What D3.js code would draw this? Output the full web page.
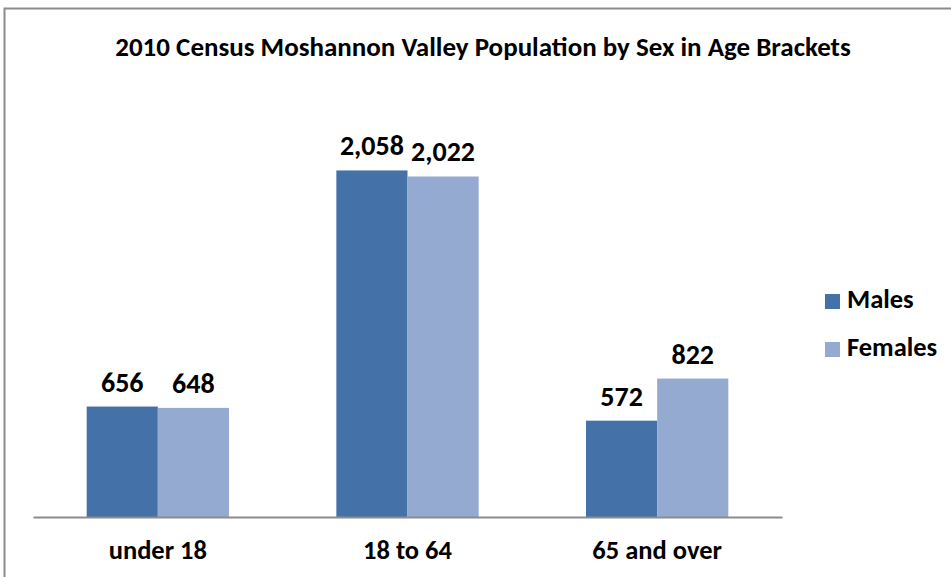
<!DOCTYPE html>
<html>
<head>
<meta charset="utf-8">
<script src="https://cdn.jsdelivr.net/npm/d3@7"></script>
<style>
  body { margin: 0; background: #fff; }
  text { font-family: Carlito, "Open Sans", "Liberation Sans", sans-serif; font-weight: bold; fill: #000; }
</style>
</head>
<body>
<div id="chart"></div>
<script>
const categories = ["under 18", "18 to 64", "65 and over"];
const seriesNames = ["Males", "Females"];
const males = [656, 2058, 572];
const females = [648, 2022, 822];
const colors = ["#4472a8", "#94aad1"];

const totalWidth = 951, totalHeight = 577;
const margin = { top: 96, right: 169, bottom: 60, left: 33 };
const width = totalWidth - margin.left - margin.right;
const height = totalHeight - margin.top - margin.bottom;

const svg = d3.select("#chart").append("svg")
  .attr("width", totalWidth)
  .attr("height", totalHeight);

// chart frame
svg.append("rect")
  .attr("x", 4.5).attr("y", 8.5)
  .attr("width", totalWidth + 10).attr("height", totalHeight + 10)
  .attr("fill", "none")
  .attr("stroke", "#8c8c8c")
  .attr("stroke-width", 2);

const g = svg.append("g")
  .attr("transform", `translate(${margin.left},${margin.top})`);

const data = categories.map((c, i) => ({ cat: c, values: [males[i], females[i]] }));

const x0 = d3.scaleBand().domain(categories).range([0, width]).paddingInner(0.43).paddingOuter(0.215);
const x1 = d3.scaleBand().domain(seriesNames).range([0, x0.bandwidth()]);
const y = d3.scaleLinear().domain([0, 2500]).range([height, 0]);

const groups = g.selectAll(".grp")
  .data(data)
  .enter().append("g")
    .attr("class", "grp")
    .attr("transform", d => `translate(${x0(d.cat)},0)`);

groups.selectAll("rect")
  .data(d => d.values.map((v, i) => ({ key: seriesNames[i], v, i })))
  .enter().append("rect")
    .attr("x", d => x1(d.key))
    .attr("width", x1.bandwidth())
    .attr("y", d => y(d.v))
    .attr("height", d => height - y(d.v))
    .attr("fill", d => colors[d.i]);

groups.selectAll(".val")
  .data(d => d.values.map((v, i) => ({ key: seriesNames[i], v, i })))
  .enter().append("text")
    .attr("class", "val")
    .attr("x", d => x1(d.key) + x1.bandwidth() / 2)
    .attr("y", d => y(d.v) - 15)
    .attr("text-anchor", "middle")
    .style("font-size", "28px")
    .text(d => d3.format(",")(d.v));

// x axis
const xAxis = g.append("g")
  .attr("transform", `translate(0,${height})`)
  .call(d3.axisBottom(x0).tickSize(0).tickPadding(0));
xAxis.select(".domain").attr("stroke", "#8c8c8c").attr("stroke-width", 2);
xAxis.selectAll("text")
  .style("font-size", "26.5px")
  .style("font-family", "Carlito, 'Open Sans', 'Liberation Sans', sans-serif")
  .attr("y", 42)
  .attr("dy", 0);

// title
svg.append("text")
  .attr("x", 483).attr("y", 56)
  .attr("text-anchor", "middle")
  .style("font-size", "27px")
  .text("2010 Census Moshannon Valley Population by Sex in Age Brackets");

// legend
const legend = svg.selectAll(".legend")
  .data(seriesNames)
  .enter().append("g")
    .attr("class", "legend")
    .attr("transform", (d, i) => `translate(825,${294 + i * 48})`);

legend.append("rect")
  .attr("width", 15).attr("height", 15)
  .attr("fill", (d, i) => colors[i]);

legend.append("text")
  .attr("x", 22).attr("y", 14)
  .style("font-size", "26.5px")
  .text(d => d);
</script>
</body>
</html>
